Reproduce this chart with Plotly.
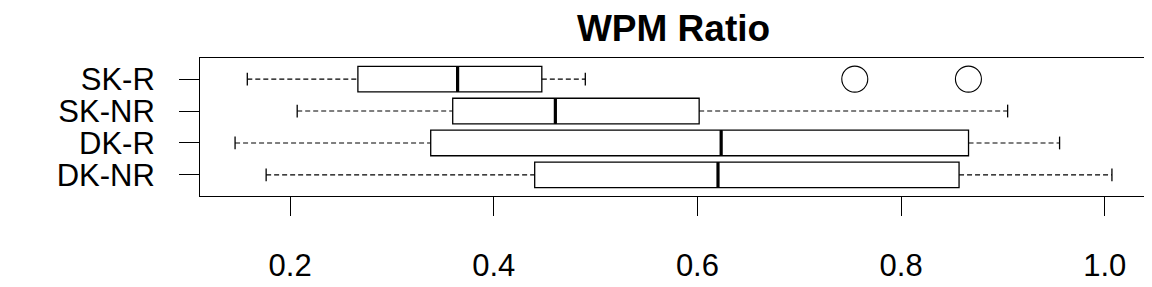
import plotly.graph_objects as go

# ---- data ----
groups = ["SK-R", "SK-NR", "DK-R", "DK-NR"]
positions = [4, 3, 2, 1]
lower_whisker = [0.158, 0.207, 0.146, 0.1765]
q1 = [0.2666, 0.3597, 0.3381, 0.4402]
median = [0.3645, 0.4605, 0.6233, 0.6202]
q3 = [0.4472, 0.6017, 0.8662, 0.8569]
upper_whisker = [0.4899, 0.9046, 0.9556, 1.0070]
outlier_groups = ["SK-R", "SK-R"]
outlier_values = [0.7545, 0.8661]
tick_vals = [0.2, 0.4, 0.6, 0.8, 1.0]
tick_labels = ["0.2", "0.4", "0.6", "0.8", "1.0"]

FONT = "Liberation Sans, Arial, sans-serif"
BOX_W = 0.8
STAPLE = 0.5 * BOX_W

pos_of = dict(zip(groups, positions))

fig = go.Figure()

# boxes
fig.add_trace(go.Box(
    y=positions, q1=q1, median=median, q3=q3,
    lowerfence=q1, upperfence=q3,
    orientation="h", width=BOX_W, whiskerwidth=0,
    boxpoints=False, fillcolor="rgba(0,0,0,0)",
    line=dict(color="black", width=1.3), hoverinfo="skip",
    showlegend=False,
))

# dashed whiskers
wx, wy = [], []
for p, lo, a, b, hi in zip(positions, lower_whisker, q1, q3, upper_whisker):
    wx += [lo, a, None, b, hi, None]
    wy += [p, p, None, p, p, None]
fig.add_trace(go.Scatter(x=wx, y=wy, mode="lines",
                         line=dict(color="black", width=1.1, dash="5px,3px"),
                         showlegend=False, hoverinfo="skip"))

# staples
sx, sy = [], []
for p, lo, hi in zip(positions, lower_whisker, upper_whisker):
    sx += [lo, lo, None, hi, hi, None]
    sy += [p - STAPLE / 2, p + STAPLE / 2, None, p - STAPLE / 2, p + STAPLE / 2, None]
fig.add_trace(go.Scatter(x=sx, y=sy, mode="lines",
                         line=dict(color="black", width=1.3),
                         showlegend=False, hoverinfo="skip"))

# thick medians
mx, my = [], []
for p, m in zip(positions, median):
    mx += [m, m, None]
    my += [p - BOX_W / 2, p + BOX_W / 2, None]
fig.add_trace(go.Scatter(x=mx, y=my, mode="lines",
                         line=dict(color="black", width=3.2),
                         showlegend=False, hoverinfo="skip"))

# outliers
fig.add_trace(go.Scatter(x=outlier_values, y=[pos_of[g] for g in outlier_groups],
                         mode="markers",
                         marker=dict(symbol="circle-open", size=26,
                                     color="black", line=dict(width=1.1, color="black")),
                         showlegend=False, hoverinfo="skip"))

allv = lower_whisker + upper_whisker + outlier_values
lo, hi = min(allv), max(allv)
d = hi - lo
xr = [lo - 0.04 * d, hi + 0.04 * d]
n = len(groups)
yr = [0.5 - 0.04 * n, n + 0.5 + 0.04 * n]

fig.update_layout(
    width=1152, height=287,
    margin=dict(l=192, r=12, t=50, b=77),
    paper_bgcolor="white", plot_bgcolor="white",
    font=dict(family=FONT, color="black"),
    title=dict(text="<b>WPM Ratio</b>", x=0.5, xref="paper",
               y=1 - 20 / 287, yref="container", yanchor="middle", xanchor="center",
               font=dict(size=37, family=FONT, color="black")),
)
fig.update_xaxes(range=xr, showline=True, mirror=True, linecolor="black", linewidth=1,
                 ticks="outside", ticklen=19, tickwidth=1, tickcolor="black",
                 tickvals=tick_vals, ticktext=tick_labels, showgrid=False, zeroline=False,
                 tickfont=dict(size=31, family=FONT, color="black"),
                 ticklabelstandoff=23)
fig.update_yaxes(range=yr, showline=True, mirror=True, linecolor="black", linewidth=1,
                 ticks="outside", ticklen=20, tickwidth=1, tickcolor="black",
                 tickvals=positions, ticktext=groups, showgrid=False, zeroline=False,
                 tickfont=dict(size=31, family=FONT, color="black"),
                 ticklabelstandoff=18)

fig.write_html("out.html")
